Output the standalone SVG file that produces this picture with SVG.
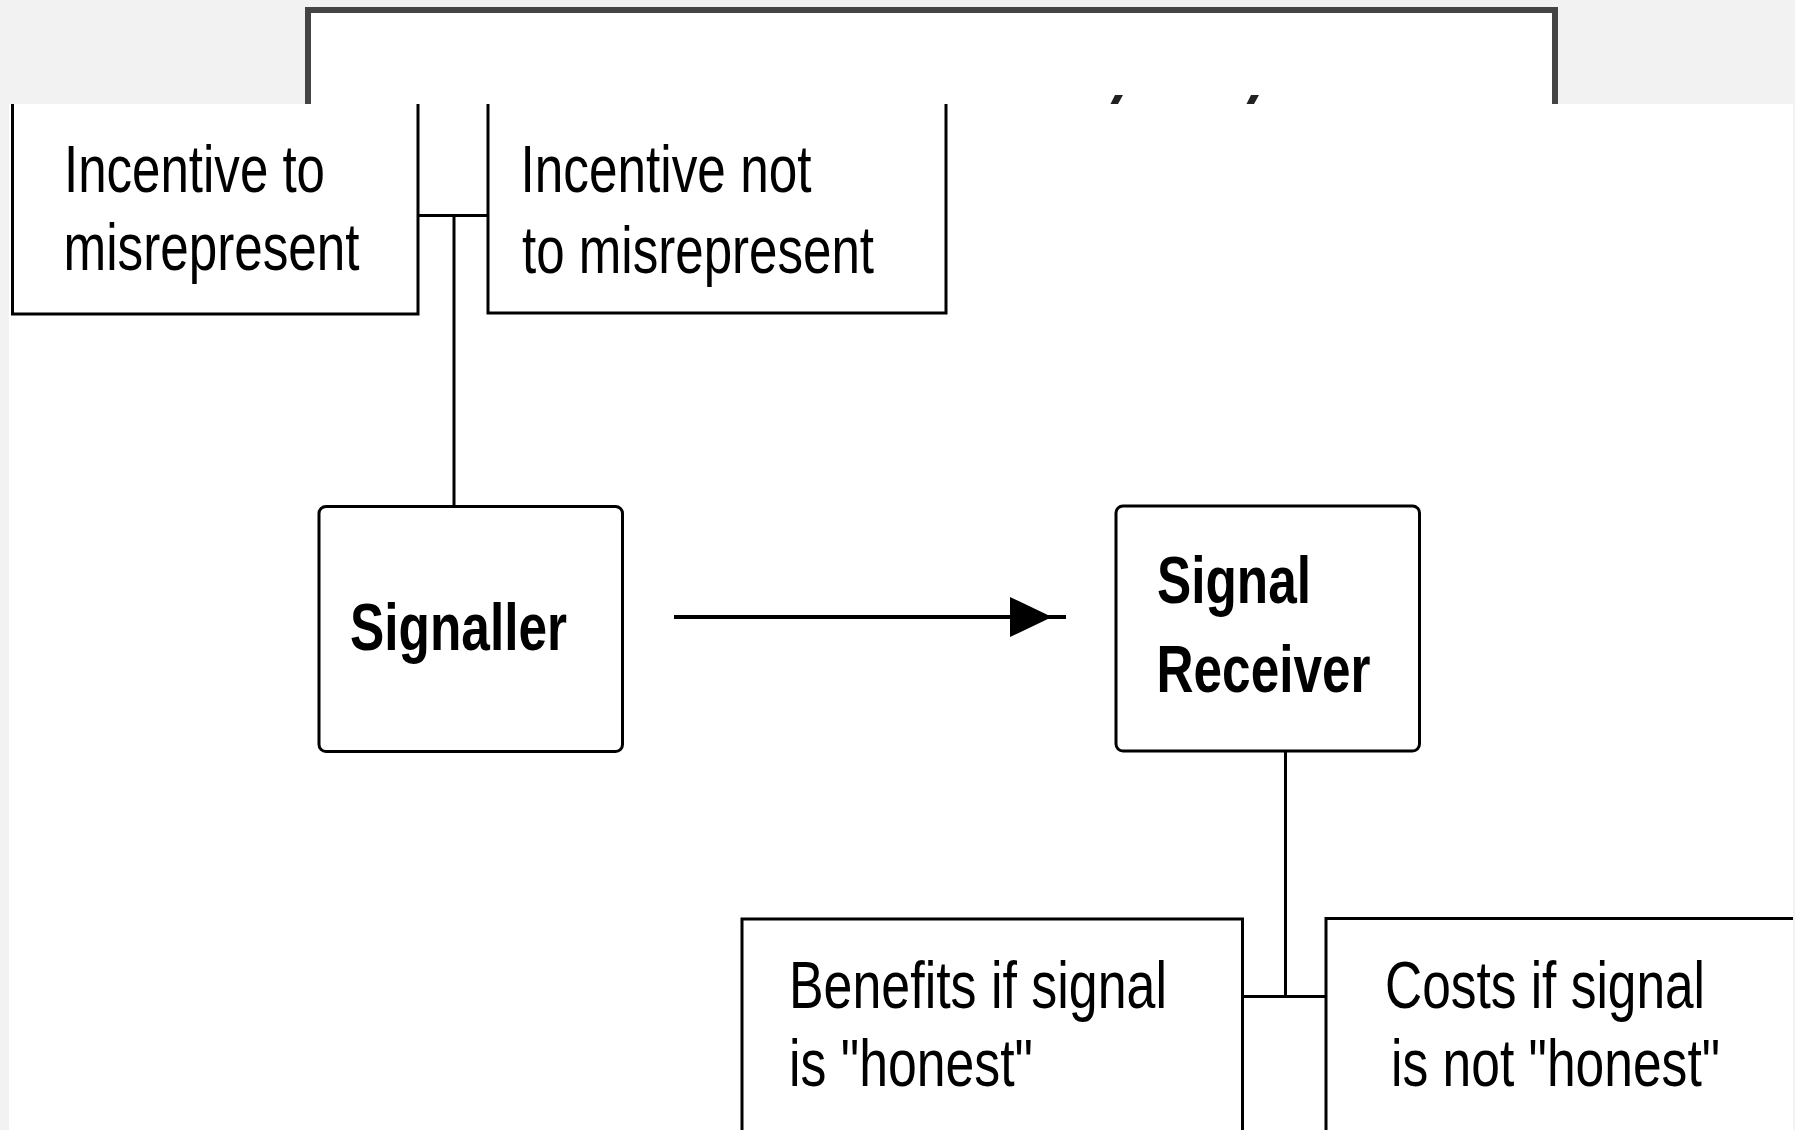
<svg xmlns="http://www.w3.org/2000/svg" width="1795" height="1130" viewBox="0 0 1795 1130">
  <style>
    .box { fill: #ffffff; stroke: #000000; stroke-width: 3; }
    .edge { fill: none; stroke: #000000; stroke-width: 3; }
    .wire { fill: none; stroke: #000000; stroke-width: 3; }
    .label { font-family: "Liberation Sans", Arial, sans-serif; font-size: 67px; fill: #000000; }
    .title { font-family: "Liberation Sans", Arial, sans-serif; font-size: 66px; font-weight: bold; fill: #000000; }
  </style>
  <defs>
    <marker id="arrowHead" markerUnits="userSpaceOnUse" viewBox="0 0 56 40" markerWidth="56" markerHeight="40" refX="56" refY="20" orient="auto" overflow="visible">
      <path d="M0,0 L42,20 L0,40 Z" fill="#000000"/>
    </marker>
  </defs>

  <!-- page background -->
  <rect x="0" y="0" width="1795" height="1130" fill="#f2f2f2"/>

  <!-- outer frame behind the panel -->
  <rect x="308" y="10" width="1247" height="400" fill="#ffffff" stroke="#444444" stroke-width="6"/>
  <polygon points="1115,95 1123,95 1118,104 1110.5,104" fill="#222222"/>
  <polygon points="1251,95 1259,95 1254,104 1246.5,104" fill="#222222"/>

  <!-- white panel -->
  <rect x="9" y="104" width="1784" height="1026" fill="#ffffff"/>

  <g id="connectors">
    <path class="wire" d="M418,215.5 H488 M454,215.5 V506.5"/>
    <path class="wire" d="M1285.5,751 V996.5 M1243,996.5 H1326"/>
    <line x1="674" y1="617" x2="1066" y2="617" stroke="#000000" stroke-width="4" marker-end="url(#arrowHead)"/>
  </g>

  <!-- boxes running past the panel edge show only their visible sides -->
  <g id="incentive-to">
    <path class="edge" d="M12.5,104 V314 H418 V104"/>
    <text class="label" x="64" y="192" textLength="261" lengthAdjust="spacingAndGlyphs">Incentive to</text>
    <text class="label" x="63.5" y="270" textLength="296" lengthAdjust="spacingAndGlyphs">misrepresent</text>
  </g>

  <g id="incentive-not">
    <path class="edge" d="M488,104 V313 H946 V104"/>
    <text class="label" x="520.5" y="192" textLength="291" lengthAdjust="spacingAndGlyphs">Incentive not</text>
    <text class="label" x="522" y="273" textLength="352" lengthAdjust="spacingAndGlyphs">to misrepresent</text>
  </g>

  <g id="signaller">
    <rect class="box" x="319" y="506.5" width="303.5" height="245" rx="7"/>
    <text class="title" x="350" y="650" textLength="217" lengthAdjust="spacingAndGlyphs">Signaller</text>
  </g>

  <g id="signal-receiver">
    <rect class="box" x="1116" y="506" width="303.5" height="245" rx="7"/>
    <text class="title" x="1157" y="603" textLength="154" lengthAdjust="spacingAndGlyphs">Signal</text>
    <text class="title" x="1156.5" y="692" textLength="214" lengthAdjust="spacingAndGlyphs">Receiver</text>
  </g>

  <g id="benefits">
    <path class="edge" d="M742,1130 V919 H1242.5 V1130"/>
    <text class="label" x="789" y="1008" textLength="378" lengthAdjust="spacingAndGlyphs">Benefits if signal</text>
    <text class="label" x="789" y="1086" textLength="244" lengthAdjust="spacingAndGlyphs">is "honest"</text>
  </g>

  <g id="costs">
    <path class="edge" d="M1326,1130 V918.5 H1793"/>
    <!-- condensed by a horizontal scale so the lines stay clear of the right edge -->
    <text class="label" transform="translate(1385,1008) scale(0.77,1)" x="0" y="0" textLength="415.6" lengthAdjust="spacingAndGlyphs">Costs if signal</text>
    <text class="label" transform="translate(1391,1086) scale(0.77,1)" x="0" y="0" textLength="427.3" lengthAdjust="spacingAndGlyphs">is not "honest"</text>
  </g>
</svg>
